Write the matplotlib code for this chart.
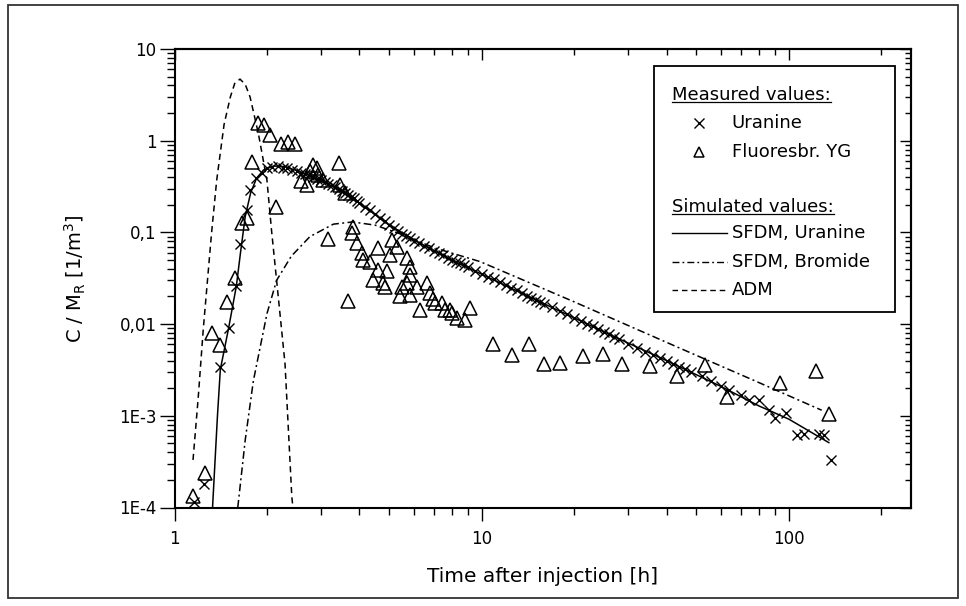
import numpy as np
import matplotlib
matplotlib.use("Agg")
import matplotlib.pyplot as plt
from matplotlib.ticker import LogLocator, FixedLocator, FixedFormatter, NullFormatter
from matplotlib.patches import Rectangle
from matplotlib.lines import Line2D

plt.rcParams['font.family'] = ['DejaVu Sans']

# ---------------- data ----------------
uranine_t = [1.16, 1.25, 1.41, 1.50, 1.59, 1.64, 1.72, 1.76, 1.84, 1.92,
             2.00, 2.08, 2.17, 2.25, 2.33, 2.42, 2.50, 2.58, 2.67, 2.75,
             2.83, 2.92, 3.00, 3.08, 3.17, 3.25, 3.33, 3.42, 3.50, 3.58,
             3.67, 3.75, 3.83, 3.92, 4.00, 4.17, 4.33, 4.50, 4.67, 4.83,
             5.00, 5.17, 5.33, 5.50, 5.67, 5.83, 6.00, 6.25, 6.50, 6.75,
             7.00, 7.25, 7.50, 7.75, 8.00, 8.25, 8.50, 8.75, 9.00, 9.50,
             10.0, 10.5, 11.0, 11.5, 12.0, 12.5, 13.0, 13.5, 14.0, 14.5,
             15.0, 15.5, 16.0, 17.0, 18.0, 19.0, 20.0, 21.0, 22.0, 23.0,
             24.0, 25.0, 26.0, 27.0, 28.0, 30.0, 32.0, 34.0, 36.0, 38.0,
             40.0, 42.0, 44.0, 46.0, 48.0, 52.0, 56.0, 60.0, 64.0, 70.0,
             74.0, 80.0, 86.0, 90.0, 98.0, 106.0, 112.0, 125.0, 130.0, 137.0]
uranine_c = [1.15e-4, 1.8e-4, 3.4e-3, 9.0e-3, 0.026, 0.075, 0.175, 0.29, 0.39, 0.45,
             0.50, 0.52, 0.53, 0.51, 0.50, 0.48, 0.47, 0.45, 0.43, 0.42,
             0.40, 0.38, 0.37, 0.355, 0.34, 0.325, 0.31, 0.295, 0.28, 0.27,
             0.255, 0.245, 0.235, 0.22, 0.21, 0.19, 0.175, 0.16, 0.145, 0.132,
             0.12, 0.112, 0.104, 0.096, 0.092, 0.086, 0.080, 0.076, 0.071, 0.067,
             0.063, 0.060, 0.056, 0.053, 0.050, 0.048, 0.046, 0.044, 0.042, 0.038,
             0.035, 0.033, 0.031, 0.029, 0.027, 0.025, 0.0235, 0.022, 0.0205, 0.0195,
             0.0185, 0.0175, 0.0167, 0.0152, 0.014, 0.0128, 0.0117, 0.0108, 0.0101, 0.0095,
             0.0089, 0.0083, 0.0078, 0.0073, 0.0069, 0.0061, 0.0055, 0.0050, 0.0046, 0.0043,
             0.0040, 0.0037, 0.0034, 0.0032, 0.0030, 0.0027, 0.0024, 0.0021, 0.0019, 0.0017,
             0.00149, 0.00149, 0.00115, 0.00094, 0.00106, 0.00062, 0.00064, 0.00064, 0.00062, 0.00033]

fluor_t = [1.15, 1.26, 1.32, 1.41, 1.48, 1.57, 1.655, 1.72, 1.79, 1.875,
           1.95, 2.04, 2.14, 2.23, 2.35, 2.47, 2.59, 2.70, 2.76, 2.83,
           2.90, 2.94, 3.04, 3.17, 3.42, 3.46, 3.59, 3.68, 3.77, 3.82,
           3.92, 4.07, 4.12, 4.33, 4.44, 4.61, 4.61, 4.79, 4.85, 4.91,
           5.03, 5.10, 5.29, 5.43, 5.49, 5.71, 5.71, 5.85, 5.85, 5.85,
           6.14, 6.29, 6.62, 6.78, 6.97, 7.04, 7.42, 7.60, 7.88, 7.98,
           8.30, 8.83, 9.17, 10.9, 12.6, 14.3, 16.0, 18.0, 21.4, 24.8,
           28.7, 35.3, 43.1, 53.3, 62.8, 93.8, 123.0, 134.8]
fluor_c = [1.35e-4, 2.4e-4, 8.0e-3, 5.9e-3, 0.0175, 0.032, 0.126, 0.142, 0.58, 1.55,
           1.50, 1.15, 0.19, 0.93, 0.98, 0.93, 0.36, 0.33, 0.47, 0.55,
           0.50, 0.42, 0.37, 0.085, 0.57, 0.33, 0.27, 0.018, 0.098, 0.115,
           0.076, 0.059, 0.050, 0.048, 0.030, 0.067, 0.039, 0.028, 0.0256, 0.038,
           0.057, 0.083, 0.070, 0.020, 0.0256, 0.052, 0.028, 0.042, 0.034, 0.021,
           0.0256, 0.0143, 0.028, 0.022, 0.019, 0.017, 0.017, 0.0143, 0.0143, 0.0133,
           0.0116, 0.0111, 0.0149, 6.1e-3, 4.6e-3, 6.0e-3, 3.7e-3, 3.8e-3, 4.5e-3, 4.7e-3,
           3.7e-3, 3.5e-3, 2.7e-3, 3.6e-3, 1.6e-3, 2.3e-3, 3.1e-3, 1.05e-3]

sfdm_uranine_t = [1.33, 1.38, 1.41, 1.50, 1.59, 1.64, 1.70, 1.77, 1.85, 1.95,
                  2.10, 2.30, 2.60, 3.00, 3.50, 4.00, 5.00, 6.30, 8.00, 10.0,
                  14.0, 20.0, 28.0, 40.0, 60.0, 80.0, 100.0, 135.0]
sfdm_uranine_c = [1.0e-4, 1.0e-3, 3.2e-3, 9.0e-3, 0.026, 0.060, 0.15, 0.27, 0.39, 0.48,
                  0.53, 0.52, 0.45, 0.37, 0.28, 0.21, 0.12, 0.076, 0.050, 0.035,
                  0.0205, 0.0117, 0.0069, 0.0040, 0.0021, 0.00128, 0.00092, 0.00051]

sfdm_bromide_t = [1.607, 1.70, 1.806, 2.00, 2.15, 2.40, 2.76, 3.29, 3.80, 4.50,
                  5.50, 7.00, 9.89, 20.0, 44.0, 80.0, 128.0]
sfdm_bromide_c = [1.0e-4, 5.5e-4, 2.4e-3, 0.013, 0.030, 0.055, 0.090, 0.123, 0.130, 0.120,
                  0.095, 0.068, 0.048, 0.0175, 0.0055, 0.0023, 0.00115]

adm_t = [1.149, 1.195, 1.24, 1.32, 1.372, 1.45, 1.52, 1.57, 1.634, 1.70,
         1.762, 1.875, 2.00, 2.07, 2.15, 2.29, 2.41, 2.43]
adm_c = [3.3e-4, 1.6e-3, 8.6e-3, 0.098, 0.37, 1.5, 3.0, 4.2, 4.7, 4.1,
         3.0, 1.2, 0.37, 0.105, 0.030, 3.7e-3, 1.3e-4, 1.0e-4]

y_ticks = [1e-4, 1e-3, 1e-2, 1e-1, 1, 10]
y_ticklabels = ["1E-4", "1E-3", "0,01", "0,1", "1", "10"]
x_ticks = [1, 10, 100]
x_ticklabels = ["1", "10", "100"]

legend_header_measured = "Measured values:"
legend_header_simulated = "Simulated values:"
label_uranine = "Uranine"
label_fluor = "Fluoresbr. YG"
label_sfdm_u = "SFDM, Uranine"
label_sfdm_b = "SFDM, Bromide"
label_adm = "ADM"

# ---------------- figure ----------------
fig = plt.figure(figsize=(9.66, 6.06), dpi=100)
ax = fig.add_axes([174.5 / 966, 1 - 507.5 / 606, 736.5 / 966, 458.5 / 606])
ax.set_xscale('log')
ax.set_yscale('log')
ax.set_xlim(1, 250)
ax.set_ylim(1e-4, 10)

DASHDOT = (0, (5, 2.2, 1.3, 2.2))
DASH = (0, (4, 2.8))

lw = 1.1
ax.plot(sfdm_uranine_t, sfdm_uranine_c, color='black', lw=lw, ls='-')
ax.plot(sfdm_bromide_t, sfdm_bromide_c, color='black', lw=lw, ls=DASHDOT)
ax.plot(adm_t, adm_c, color='black', lw=lw, ls=DASH)
ax.plot(uranine_t, uranine_c, ls='none', marker='x', ms=7.5, mew=1.0, color='black')
ax.plot(fluor_t, fluor_c, ls='none', marker='^', ms=9.5, mew=1.1,
        markerfacecolor='none', markeredgecolor='black')

# ticks
sub_loc = lambda: LogLocator(base=10, subs=np.arange(2, 10), numticks=50)
ax.xaxis.set_major_locator(FixedLocator(x_ticks))
ax.xaxis.set_major_formatter(FixedFormatter(x_ticklabels))
ax.xaxis.set_minor_locator(sub_loc())
ax.xaxis.set_minor_formatter(NullFormatter())
ax.yaxis.set_major_locator(FixedLocator(y_ticks))
ax.yaxis.set_major_formatter(FixedFormatter(y_ticklabels))
ax.yaxis.set_minor_locator(sub_loc())
ax.yaxis.set_minor_formatter(NullFormatter())
ax.tick_params(which='both', direction='out', top=False, right=False, width=1.0,
               labelsize=12, colors='black')
ax.tick_params(axis='x', which='major', length=9, pad=7)
ax.tick_params(axis='x', which='minor', length=5)
ax.tick_params(axis='y', which='major', length=11, pad=2)
ax.tick_params(axis='y', which='minor', length=6)

for s in ax.spines.values():
    s.set_linewidth(1.5)

ident = (lambda v: v, lambda v: v)
secx = ax.secondary_xaxis('top', functions=ident)
secx.xaxis.set_major_locator(FixedLocator(x_ticks))
secx.xaxis.set_minor_locator(sub_loc())
secx.xaxis.set_major_formatter(NullFormatter())
secx.xaxis.set_minor_formatter(NullFormatter())
secx.tick_params(which='both', direction='in', width=1.0)
secx.tick_params(which='major', length=8)
secx.tick_params(which='minor', length=4.5)
secx.spines['top'].set_linewidth(1.5)

secy = ax.secondary_yaxis('right', functions=ident)
secy.yaxis.set_major_locator(FixedLocator(y_ticks))
secy.yaxis.set_minor_locator(sub_loc())
secy.yaxis.set_major_formatter(NullFormatter())
secy.yaxis.set_minor_formatter(NullFormatter())
secy.tick_params(which='both', direction='in', width=1.0)
secy.tick_params(which='major', length=8)
secy.tick_params(which='minor', length=4.5)
secy.spines['right'].set_linewidth(1.5)

ax.set_xlabel("Time after injection [h]", fontsize=14.5, labelpad=14)
ax.set_ylabel(r"C / M$_\mathregular{R}$ [1/m$^\mathregular{3}$]", fontsize=14, labelpad=22)

# ---------------- legend (manual) ----------------
tr = ax.transAxes
box = Rectangle((0.6506, 0.4264), 0.9783 - 0.6506, 0.9629 - 0.4264, transform=tr,
                facecolor='white', edgecolor='black', lw=1.3, zorder=5)
ax.add_patch(box)
fs = 13
h1 = ax.text(0.6754, 0.8997, legend_header_measured, transform=tr, fontsize=fs,
             va='center', ha='left', zorder=6)
ax.plot([0.7116], [0.8386], transform=tr, marker='x', ms=7, mew=1.0, color='black',
        ls='none', zorder=6, clip_on=False)
ax.text(0.7563, 0.8386, label_uranine, transform=tr, fontsize=fs, va='center', ha='left', zorder=6)
ax.plot([0.7116], [0.7754], transform=tr, marker='^', ms=7, mew=1.1, ls='none',
        markerfacecolor='none', markeredgecolor='black', zorder=6, clip_on=False)
ax.text(0.7563, 0.7754, label_fluor, transform=tr, fontsize=fs, va='center', ha='left', zorder=6)
h2 = ax.text(0.6754, 0.6554, legend_header_simulated, transform=tr, fontsize=fs,
             va='center', ha='left', zorder=6)
ys = [0.5987, 0.5354, 0.4744]
styles = ['-', DASHDOT, DASH]
labels = [label_sfdm_u, label_sfdm_b, label_adm]
for yy, st, lb in zip(ys, styles, labels):
    ax.add_line(Line2D([0.675, 0.7495], [yy, yy], transform=tr, color='black', lw=1.0,
                       ls=st, zorder=6))
    ax.text(0.7563, yy, lb, transform=tr, fontsize=fs, va='center', ha='left', zorder=6)

fig.canvas.draw()
renderer = fig.canvas.get_renderer()
inv = ax.transAxes.inverted()
for h in (h1, h2):
    bb = h.get_window_extent(renderer=renderer)
    (x0, y0), (x1, _) = inv.transform([[bb.x0, bb.y0], [bb.x1, bb.y0]])
    ax.add_line(Line2D([x0, x1], [y0 + 0.004, y0 + 0.004], transform=tr, color='black',
                       lw=0.9, zorder=6))

# figure border
fig.patches.append(Rectangle((8 / 966, 1 - 598 / 606), 950 / 966, 593 / 606,
                             transform=fig.transFigure, fill=False,
                             edgecolor='#333333', lw=1.3))

fig.savefig("out.png", dpi=100)
